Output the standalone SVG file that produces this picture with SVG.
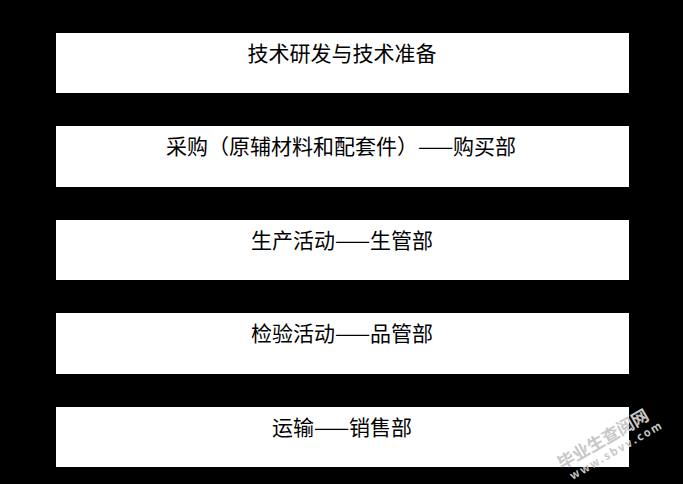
<svg xmlns="http://www.w3.org/2000/svg" width="683" height="484" viewBox="0 0 683 484">
<style>
.box{fill:#ffffff;stroke:none}
.lbl{font-family:"Noto Sans CJK SC","Liberation Serif",serif;font-size:21px;fill:#000000;text-anchor:middle;dominant-baseline:central}
.wm{font-family:"Noto Sans CJK SC","Liberation Sans",sans-serif;fill:#c8c8c8;font-weight:bold}
</style>
<rect x="0" y="0" width="683" height="484" fill="#000000"/>
<g id="connectors"></g>
<g id="node1"><rect class="box" x="56" y="33" width="573" height="60"/><text class="lbl" x="342" y="52">技术研发与技术准备</text></g>
<g id="node2"><rect class="box" x="56" y="126" width="573" height="61"/><text class="lbl" x="341" y="145">采购（原辅材料和配套件）——购买部</text></g>
<g id="node3"><rect class="box" x="56" y="220" width="573" height="60"/><text class="lbl" x="342" y="239">生产活动——生管部</text></g>
<g id="node4"><rect class="box" x="56" y="313" width="573" height="61"/><text class="lbl" x="342" y="332">检验活动——品管部</text></g>
<g id="node5"><rect class="box" x="56" y="407" width="573" height="60"/><text class="lbl" x="342" y="426">运输——销售部</text></g>
<g id="watermark" transform="translate(562,470) rotate(-30)">
<text class="wm" x="0" y="0" font-size="17">毕业生查阅网</text>
<text class="wm" x="4" y="14" font-size="11" letter-spacing="2">www.sbvv.com</text>
</g>
</svg>
